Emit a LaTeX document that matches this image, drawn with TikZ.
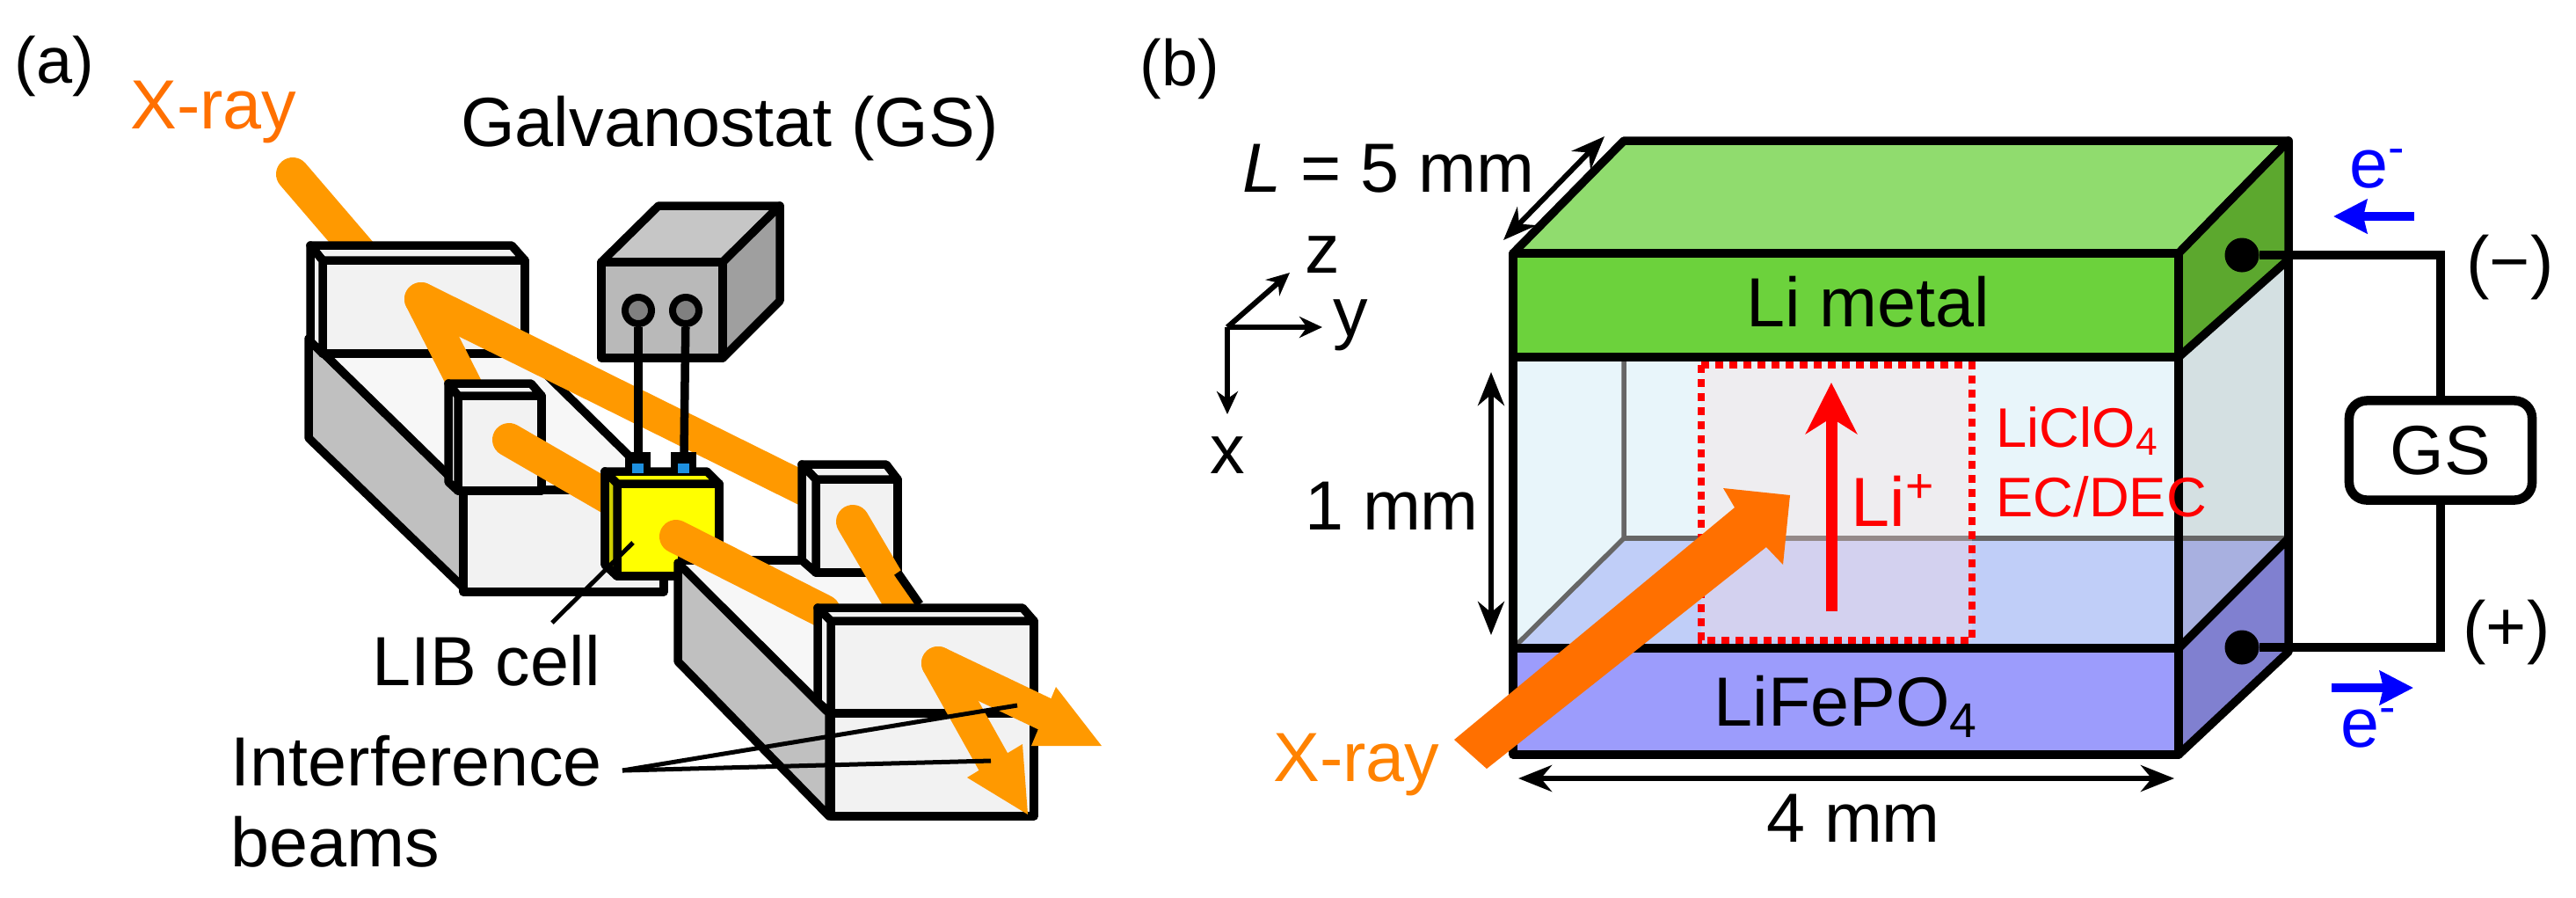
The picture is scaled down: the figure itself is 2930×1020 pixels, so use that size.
\documentclass[tikz,border=0pt]{standalone}
\usepackage{fontspec}
\setmainfont{Liberation Sans}
\usetikzlibrary{arrows.meta, positioning}

\definecolor{beamorange}{HTML}{FF9900}
\definecolor{xrayorange}{HTML}{FF7000}
\definecolor{blockfill}{HTML}{F2F2F2}
\definecolor{basegrey}{HTML}{C0C0C0}
\definecolor{cellyellow}{HTML}{FFFF00}
\definecolor{limetaltop}{HTML}{90DC6E}
\definecolor{limetalfront}{HTML}{6CD23C}
\definecolor{limetalside}{HTML}{5CA82E}
\definecolor{lfptop}{HTML}{C0CEF8}
\definecolor{lfpfront}{HTML}{9C9CFC}
\definecolor{lfpside}{HTML}{8080D0}
\definecolor{lfpsidetop}{HTML}{A8B0E0}
\definecolor{liquidfront}{HTML}{E8F5FA}
\definecolor{liquidside}{HTML}{D4E0E2}
\definecolor{termblue}{HTML}{1E90E0}

% back-left x, back-top y, back-right x, front-left x, front-top y, front-right x, front-bottom y, back-bottom y
\newcommand{\mirrorblock}[9][blockfill]{
  \draw[solidline, fill=#1] (#5,#6) rectangle (#7,#8);
  \draw[solidline, fill=#1] (#2,#3) -- (#4,#3) -- (#7,#6) -- (#5,#6) -- cycle;
  \draw[solidline, fill=#1] (#2,#3) -- (#5,#6) -- (#5,#8) -- (#2,#9) -- cycle;
}

\begin{document}
\begin{tikzpicture}[
    x=0.01cm, y=-0.01cm,
    solidline/.style={draw=black, line width=0.095cm, line join=round},
    beam/.style={draw=beamorange, line width=0.38cm, line cap=round},
    leader/.style={draw=black, line width=0.05cm},
    dimarrow/.style={draw=black, line width=0.06cm, {Stealth[length=0.38cm,width=0.3cm]}-{Stealth[length=0.38cm,width=0.3cm]}},
    axisarrow/.style={draw=black, line width=0.06cm, -{Stealth[length=0.26cm,width=0.24cm]}},
    wire/.style={draw=black, line width=0.105cm},
    elecarrow/.style={draw=blue, line width=0.1cm, -{Stealth[length=0.38cm,width=0.38cm,inset=0.04cm]}},
    lab/.style={font=\fontsize{22.5}{26}\selectfont, inner sep=0pt},
    panellab/.style={font=\fontsize{21}{25}\selectfont, inner sep=0pt},
    redlab/.style={font=\fontsize{18}{22}\selectfont, inner sep=0pt, text=red, anchor=base west},
    bluelab/.style={lab, text=blue}
]
\useasboundingbox (0,0) rectangle (2930,1020);

\node[panellab] (panela) at (62,75) {(a)};
\node[panellab] (panelb) at (1342,78) {(b)};

% panel a
\node[lab, text=xrayorange] (xraya) at (243,127) {X-ray};
\node[lab] (gstitle) at (830,146) {Galvanostat (GS)};
\node[lab] (libcell) at (553,751) {LIB cell};
\node[lab, anchor=west] (interf) at (262,865) {Interference};
\node[lab, anchor=west] (beams) at (262,957) {beams};

\draw[beam] (333,198) -- (412,290);

\draw[solidline, fill=basegrey] (351,385) -- (527,557) -- (527,668) -- (351,498) -- cycle;
\fill[blockfill!60!white] (351,385) -- (597,402) -- (755,557) -- (527,557) -- cycle;
\draw[solidline, fill=blockfill] (527,557) -- (755,557) -- (755,673) -- (527,673) -- cycle;
\draw[solidline] (597,402) -- (755,557);
\draw[solidline] (351,385) -- (527,557);
\mirrorblock{353}{279}{582}{367}{296}{597}{402}{388}

\draw[beam] (479,340) -- (530,440);
\mirrorblock{510}{436}{604}{521}{450}{616}{558}{548}
\draw[beam] (479,340) -- (915,556);
\draw[beam] (579,500) -- (700,570);

\draw[solidline, fill=gray!45] (749,234) -- (887,234) -- (822,298) -- (684,298) -- cycle;
\draw[solidline, fill=gray!75] (887,234) -- (887,342) -- (822,407) -- (822,298) -- cycle;
\draw[solidline, fill=gray!55] (684,298) rectangle (822,407);
\node[circle, draw=black, line width=0.08cm, fill=gray, minimum size=0.3cm, inner sep=0pt] (portl) at (726,353) {};
\node[circle, draw=black, line width=0.08cm, fill=gray, minimum size=0.3cm, inner sep=0pt] (portr) at (780,353) {};

\mirrorblock[cellyellow]{688}{536}{804}{702}{550}{818}{655}{642}
\draw[solidline, fill=cellyellow!80!black] (688,536) -- (702,550) -- (702,655) -- (688,642) -- cycle;
\fill[black] (711,514) rectangle (740,541);
\fill[black] (763,514) rectangle (792,541);
\fill[termblue] (719,527) rectangle (732,538);
\fill[termblue] (771,527) rectangle (784,538);
\coordinate (terml) at (726,514);
\coordinate (termr) at (778,514);
\draw[solidline] (portl) -- (terml);
\draw[solidline] (portr) -- (termr);

\fill[blockfill!60!white] (771,637) -- (912,637) -- (928,651) -- (1021,651) -- (1046,690) -- (930,690) -- (930,800) -- (943,811) -- cycle;
\draw[solidline, fill=basegrey] (771,640) -- (943,811) -- (943,928) -- (771,752) -- cycle;
\draw[solidline] (771,637) -- (912,637);
\draw[beam] (769,610) -- (937,695);
\mirrorblock{912}{528}{1008}{928}{545}{1021}{651}{637}
\draw[beam] (970,593) -- (1030,695);
\draw[solidline] (1021,651) -- (1046,687);
\mirrorblock{930}{691}{1163}{945}{706}{1176}{811}{798}
\draw[solidline, fill=blockfill] (945,811) rectangle (1176,928);

\draw[beam] (1067,754) -- (1195,815);
\fill[beamorange] (1201,781) -- (1253,848) -- (1173,848) -- cycle;
\draw[beam] (1067,754) -- (1132,870);
\fill[beamorange] (1163,846) -- (1169,926) -- (1100,884) -- cycle;

\coordinate (leadapex) at (708,876);
\coordinate (leadtopend) at (1157,802);
\coordinate (leadlowend) at (1127,865);
\coordinate (libstart) at (628,708);
\coordinate (libend) at (720,617);
\draw[leader] (leadapex) -- (leadtopend);
\draw[leader] (leadapex) -- (leadlowend);
\draw[leader] (libstart) -- (libend);

% panel b
\fill[liquidfront] (1721,406) rectangle (2478,737);
\fill[liquidside] (2478,406) -- (2603,295) -- (2603,612) -- (2478,737) -- cycle;
\fill[lfptop] (1847,612) -- (2478,612) -- (2478,737) -- (1721,737) -- cycle;
\fill[lfpsidetop] (2478,612) -- (2603,612) -- (2478,737) -- cycle;
\draw[draw=gray!80!black, line width=0.055cm] (1847,406) -- (1847,612) -- (1721,737);
\draw[draw=gray!80!black, line width=0.055cm] (1847,612) -- (2603,612);

\draw[draw=red, fill=red!14!white, fill opacity=0.3, line width=0.085cm, dash pattern=on 0.09cm off 0.07cm] (1935,415) rectangle (2243,728);

\draw[solidline, fill=lfpfront] (1721,737) rectangle (2478,858);
\draw[solidline, fill=lfpside] (2478,737) -- (2603,612) -- (2603,741) -- (2478,858) -- cycle;
\draw[solidline, fill=limetaltop] (1721,288) -- (1847,160) -- (2603,160) -- (2478,288) -- cycle;
\draw[solidline, fill=limetalfront] (1721,288) rectangle (2478,406);
\draw[solidline, fill=limetalside] (2478,288) -- (2603,160) -- (2603,295) -- (2478,406) -- cycle;
\draw[solidline] (1721,406) -- (1721,737);
\draw[solidline] (2478,406) -- (2478,737);
\draw[solidline] (2603,295) -- (2603,612);

\node[lab] (limetal) at (2125,343) {Li metal};
\node[lab] (lfp) at (2100,803) {LiFePO\textsubscript{4}};

\coordinate (liarrowfoot) at (2083,695);
\coordinate (liarrowtip) at (2083,435);
\draw[draw=red, line width=0.13cm, -{Stealth[length=0.58cm,width=0.58cm,inset=0.18cm]}] (liarrowfoot) -- (liarrowtip);
\node[lab, text=red, anchor=base west] (liion) at (2105,598) {Li\textsuperscript{+}};
\node[redlab] (licl) at (2270,508) {LiClO\textsubscript{4}};
\node[redlab] (ecdec) at (2270,587) {EC/DEC};

\fill[xrayorange] (1654,841) -- (1691,874) -- (2009,622) -- (2028,642) -- (2036,563) -- (1960,555) -- (1973,577) -- cycle;
\node[lab, text=beamorange!85!red] (xrayb) at (1543,869) {X-ray};

\coordinate (widthl) at (1727,885);
\coordinate (widthr) at (2473,885);
\coordinate (heightt) at (1696,423);
\coordinate (heightb) at (1696,722);
\coordinate (lenf) at (1710,273);
\coordinate (lenb) at (1825,155);
\draw[dimarrow] (widthl) -- (widthr);
\draw[dimarrow] (heightt) -- (heightb);
\draw[dimarrow] (lenf) -- (lenb);
\node[lab] (widthlab) at (2108,930) {4 mm};
\node[lab] (heightlab) at (1583,575) {1 mm};
\node[lab] (lenlab) at (1579,192) {\textit{L} = 5 mm};

\coordinate (axo) at (1396,372);
\coordinate (axx) at (1396,471);
\coordinate (axy) at (1504,372);
\coordinate (axz) at (1467,310);
\draw[axisarrow] (axo) -- (axx);
\draw[axisarrow] (axo) -- (axy);
\draw[axisarrow] (axo) -- (axz);
\node[lab] (labx) at (1396,518) {x};
\node[lab] (laby) at (1536,370) {y};
\node[lab] (labz) at (1504,290) {z};

\node[circle, fill=black, minimum size=0.39cm, inner sep=0pt] (negdot) at (2550,290) {};
\node[circle, fill=black, minimum size=0.39cm, inner sep=0pt] (posdot) at (2550,736) {};
\node[lab, draw=black, line width=0.105cm, fill=white, rounded corners=0.2cm, minimum width=2.08cm, minimum height=1.13cm] (gsbox) at (2776,512) {GS};
\draw[wire] (negdot) -| (gsbox);
\draw[wire] (posdot) -| (gsbox);
\node[lab] (neglab) at (2855,304) {(−)};
\node[lab] (poslab) at (2851,719) {(+)};

\coordinate (elintail) at (2746,246);
\coordinate (elinhead) at (2654,246);
\coordinate (elouttail) at (2652,782);
\coordinate (elouthead) at (2745,782);
\draw[elecarrow] (elintail) -- (elinhead);
\draw[elecarrow] (elouttail) -- (elouthead);
\node[bluelab] (elin) at (2705,192) {e\textsuperscript{-}};
\node[bluelab] (elout) at (2695,828) {e\textsuperscript{-}};

\end{tikzpicture}
\end{document}
